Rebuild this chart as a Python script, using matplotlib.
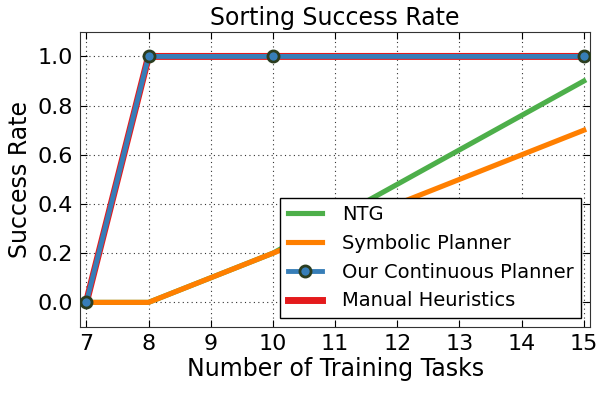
import matplotlib
matplotlib.use('Agg')
import matplotlib.pyplot as plt

tasks: list[int] = [7, 8, 10, 15]
ntg: list[float] = [0.0, 0.0, 0.2, 0.9]
symbolic: list[float] = [0.0, 0.0, 0.2, 0.7]
continuous: list[float] = [0.0, 1.0, 1.0, 1.0]
manual: list[float] = [0.0, 1.0, 1.0, 1.0]
x_ticks: list[int] = list(range(7, 16))
y_ticks: list[float] = [0.0, 0.2, 0.4, 0.6, 0.8, 1.0]


def generate_plot() -> None:
    fig = plt.figure(figsize=(6.07, 3.93), dpi=100, facecolor='white')
    ax = fig.add_axes([0.132, 0.168, 0.840, 0.751])

    ax.plot(tasks, ntg, color='#4daf4a', linewidth=3.7, label='NTG', zorder=2)
    ax.plot(tasks, symbolic, color='#ff7f00', linewidth=3.7, label='Symbolic Planner', zorder=3)
    ax.plot(tasks, continuous, color='#377eb8', linewidth=3.5, marker='o', markersize=8,
            markerfacecolor='#377eb8', markeredgecolor='#2b3d1f', markeredgewidth=2,
            label='Our Continuous Planner', zorder=5)
    ax.plot(tasks, manual, color='#e41a1c', linewidth=5, label='Manual Heuristics', zorder=4)

    ax.set_xlim(6.9, 15.1)
    ax.set_ylim(-0.1, 1.1)
    ax.set_xticks(x_ticks)
    ax.set_yticks(y_ticks)
    ax.set_yticklabels([f'{v:.1f}' for v in y_ticks])
    ax.tick_params(direction='in', labelsize=16, top=True, right=True, length=5, pad=5)
    ax.grid(True, linestyle=(0, (1, 3)), color='#333333', linewidth=0.8)
    for spine in ax.spines.values():
        spine.set_color('#333333')

    ax.set_title('Sorting Success Rate', fontsize=17, pad=5)
    ax.set_xlabel('Number of Training Tasks', fontsize=17, labelpad=2)
    ax.set_ylabel('Success Rate', fontsize=17, labelpad=4)

    leg = ax.legend(loc='lower right', fontsize=14, fancybox=False, framealpha=1,
                    edgecolor='black', handlelength=1.75, handletextpad=1.0,
                    labelspacing=0.5, borderaxespad=0.45)
    leg.get_frame().set_linewidth(1.0)
    leg.set_zorder(10)

    fig.savefig('out.png', dpi=100, facecolor='white')


if __name__ == '__main__':
    generate_plot()
